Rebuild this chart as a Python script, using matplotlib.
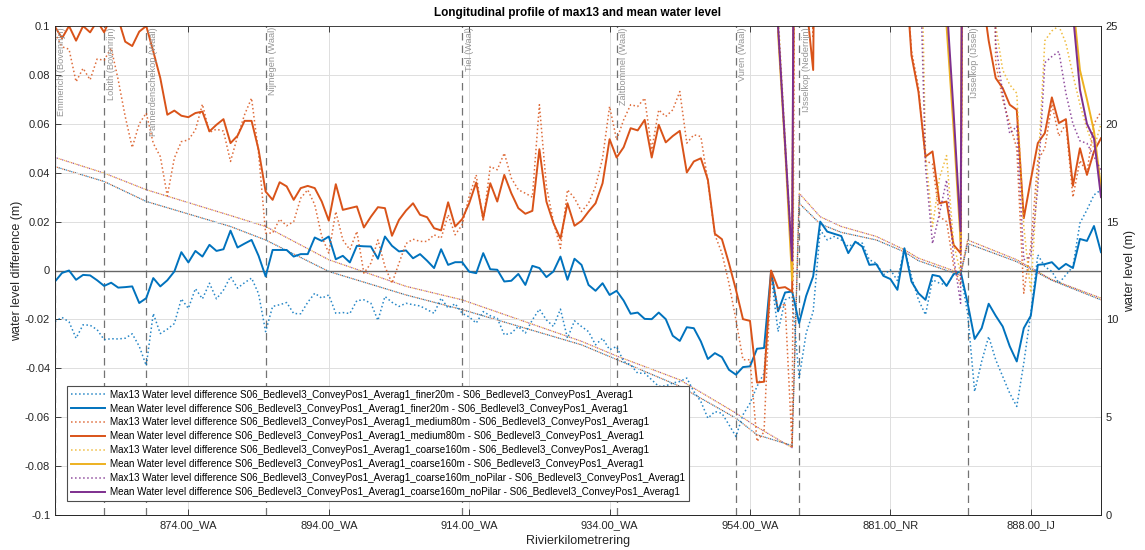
import numpy as np
import matplotlib
matplotlib.use("Agg")
import matplotlib.pyplot as plt

plt.rcParams['font.family'] = ['Liberation Sans', 'DejaVu Sans']

# river km index (one point per km-section)
idx = np.arange(1, 151)

xtick_pos = [20, 40, 60, 80, 100, 120, 140]
xtick_labels = ['874.00_WA', '894.00_WA', '914.00_WA', '934.00_WA', '954.00_WA', '881.00_NR', '888.00_IJ']
ytick_vals = [-0.1, -0.08, -0.06, -0.04, -0.02, 0, 0.02, 0.04, 0.06, 0.08, 0.1]
ytick_labels = ['-0.1', '-0.08', '-0.06', '-0.04', '-0.02', '0', '0.02', '0.04', '0.06', '0.08', '0.1']

loc_x = [1, 8, 14, 31, 59, 81, 98, 107, 131]
loc_names = ['Emmerich (Bovenrijn)', 'Lobith (Bovenrijn)', 'Pannerdenschekop (Waal)', 'Nijmegen (Waal)',
             'Tiel (Waal)', 'Zaltbommel (Waal)', 'Vuren (Waal)', 'IJsselkop (Nederrijn)', 'IJsselkop (IJssel)']

# water level difference, finer20m
finer_mean = [-0.0045, -0.001, 0.0, -0.0038, -0.0018, -0.002, -0.004, -0.0063, -0.005, -0.007,
              -0.0068, -0.0065, -0.0133, -0.0113, -0.0031, -0.0065, -0.004, -0.0004, 0.0075, 0.0033,
              0.008, 0.0057, 0.0105, 0.008, 0.0087, 0.0163, 0.0094, 0.011, 0.0125, 0.006,
              -0.0024, 0.0084, 0.0084, 0.0084, 0.0057, 0.0067, 0.0067, 0.0135, 0.0121, 0.0139,
              0.0046, 0.006, 0.0033, 0.0101, 0.0099, 0.0098, 0.0048, 0.0139, 0.0101, 0.0078,
              0.0082, 0.005, 0.0067, 0.004, 0.001, 0.0087, 0.0023, 0.0034, 0.0034, -0.0005,
              -0.0011, 0.0071, 0.0005, 0.0003, -0.0045, -0.0042, -0.0014, -0.0059, 0.0019, 0.001,
              -0.0027, -0.0004, 0.0057, -0.0038, 0.0048, 0.0023, -0.0059, -0.0083, -0.0052, -0.01,
              -0.0083, -0.0123, -0.0177, -0.0172, -0.0198, -0.0199, -0.0172, -0.0199, -0.0267, -0.0288,
              -0.0232, -0.0236, -0.029, -0.0362, -0.0338, -0.0354, -0.0406, -0.0426, -0.0395, -0.0392,
              -0.032, -0.0317, -0.0004, -0.0167, -0.009, -0.0086, -0.0215, -0.0104, -0.0024, 0.02,
              0.0159, 0.015, 0.0141, 0.0071, 0.0118, 0.0098, 0.0023, 0.0026, -0.0022, -0.0035,
              -0.0079, 0.0091, -0.0045, -0.0093, -0.012, -0.0018, -0.0024, -0.0063, -0.0015, -0.0004,
              -0.0133, -0.028, -0.0236, -0.0136, -0.0185, -0.0229, -0.031, -0.0372, -0.0236, -0.0185,
              0.0023, 0.0026, 0.0034, 0.0005, 0.0027, 0.001, 0.0129, 0.0121, 0.0182, 0.0075]
finer_max = [-0.0208, -0.0192, -0.021, -0.0277, -0.0222, -0.0224, -0.0242, -0.0283, -0.0279, -0.028,
             -0.0277, -0.0259, -0.031, -0.0389, -0.0176, -0.0258, -0.024, -0.0217, -0.0116, -0.0155,
             -0.0074, -0.0116, -0.0052, -0.0116, -0.008, -0.0025, -0.0072, -0.005, -0.0031, -0.0095,
             -0.025, -0.0147, -0.014, -0.0131, -0.0176, -0.0177, -0.013, -0.0093, -0.0113, -0.01,
             -0.0175, -0.0172, -0.0176, -0.0123, -0.012, -0.0134, -0.0204, -0.0106, -0.013, -0.0147,
             -0.0134, -0.014, -0.0145, -0.016, -0.0175, -0.0113, -0.0154, -0.0136, -0.0175, -0.019,
             -0.0215, -0.0168, -0.0185, -0.0195, -0.0263, -0.0256, -0.0229, -0.0256, -0.0202, -0.0158,
             -0.0202, -0.0229, -0.0158, -0.0277, -0.0206, -0.0229, -0.025, -0.0304, -0.0277, -0.0324,
             -0.0311, -0.0372, -0.0386, -0.042, -0.042, -0.0447, -0.0474, -0.0472, -0.046, -0.0454,
             -0.044, -0.0495, -0.0536, -0.0604, -0.0577, -0.0584, -0.0631, -0.0679, -0.059, -0.0543,
             -0.0474, -0.042, -0.0018, -0.025, -0.012, -0.0106, -0.044, -0.0256, -0.0168, 0.0166,
             0.0125, 0.0139, 0.0125, 0.0098, 0.0112, 0.0112, 0.0044, 0.003, -0.0018, 0.0003,
             -0.0041, 0.0091, -0.0025, -0.012, -0.0181, -0.0038, -0.0052, -0.0059, -0.0018, -0.0011,
             -0.0175, -0.0495, -0.0372, -0.027, -0.0365, -0.0434, -0.0502, -0.0556, -0.0379, -0.0175,
             0.0064, 0.0016, -0.0004, -0.0052, -0.0018, 0.0016, 0.0194, 0.0248, 0.0309, 0.033]

# water level difference, medium80m
medium_mean = [0.0997, 0.095, 0.1, 0.094, 0.1, 0.0974, 0.102, 0.0974, 0.104, 0.103,
               0.0936, 0.0918, 0.0977, 0.1, 0.0896, 0.0787, 0.0637, 0.0654, 0.0633, 0.0627,
               0.0644, 0.065, 0.0569, 0.0596, 0.0619, 0.0521, 0.0551, 0.0612, 0.0612, 0.0494,
               0.0323, 0.0289, 0.0361, 0.0344, 0.0289, 0.0337, 0.0346, 0.0337, 0.0282, 0.0204,
               0.0353, 0.0248, 0.0255, 0.0262, 0.0176, 0.022, 0.0259, 0.0255, 0.0142, 0.0207,
               0.0245, 0.0275, 0.0228, 0.0218, 0.0173, 0.0164, 0.0279, 0.018, 0.021, 0.0275,
               0.036, 0.0214, 0.0357, 0.0282, 0.0391, 0.0316, 0.0255, 0.0232, 0.0244, 0.0496,
               0.0282, 0.0194, 0.013, 0.0275, 0.0183, 0.0203, 0.0241, 0.0275, 0.0357, 0.0537,
               0.0462, 0.0504, 0.0582, 0.0573, 0.0616, 0.0462, 0.0596, 0.0524, 0.055, 0.0571,
               0.0401, 0.0446, 0.0459, 0.0371, 0.015, 0.0128, 0.003, -0.0079, -0.0199, -0.0206,
               -0.0458, -0.0455, 0.0, -0.0072, -0.0068, -0.0086, 0.5, 0.11, 0.082, 0.4,
               0.3, 0.25, 0.2, 0.2, 0.2, 0.2, 0.2, 0.2, 0.2, 0.2,
               0.15, 0.13, 0.088, 0.073, 0.0466, 0.0487, 0.0275, 0.0282, 0.0105, 0.0071,
               0.5, 0.3, 0.115, 0.094, 0.0787, 0.0746, 0.0678, 0.0657, 0.0214, 0.0371,
               0.0521, 0.0562, 0.0708, 0.0603, 0.0619, 0.0346, 0.05, 0.0391, 0.0487, 0.0541]
medium_max = [0.097, 0.0915, 0.0905, 0.0772, 0.0827, 0.078, 0.0865, 0.086, 0.091, 0.078,
              0.063, 0.0503, 0.06, 0.0644, 0.052, 0.0466, 0.0305, 0.046, 0.0527, 0.0534,
              0.0575, 0.068, 0.0565, 0.0578, 0.057, 0.0446, 0.0548, 0.0637, 0.0705, 0.048,
              0.0153, 0.0153, 0.021, 0.0183, 0.02, 0.0296, 0.033, 0.0269, 0.0139, 0.0071,
              0.0241, 0.0125, 0.0085, 0.016, -0.0011, 0.003, 0.0125, 0.0016, -0.0052, 0.003,
              0.011, 0.0128, 0.0119, 0.0119, 0.0146, 0.0132, 0.0228, 0.0146, 0.0187, 0.0303,
              0.0391, 0.02, 0.0425, 0.0412, 0.048, 0.0378, 0.033, 0.0316, 0.03, 0.0678,
              0.0344, 0.02, 0.0091, 0.033, 0.0296, 0.0241, 0.0275, 0.0344, 0.0459, 0.0671,
              0.0534, 0.0616, 0.0678, 0.0671, 0.0705, 0.0494, 0.0657, 0.063, 0.0657, 0.0732,
              0.0521, 0.0555, 0.0548, 0.0364, 0.0146, 0.0071, -0.0052, -0.0202, -0.0365, -0.0365,
              -0.0699, -0.066, 0.0, -0.016, -0.0134, -0.072, 0.5, 0.2, 0.095, 0.4,
              0.3, 0.25, 0.25, 0.2, 0.2, 0.2, 0.2, 0.2, 0.2, 0.25,
              0.3, 0.13, 0.09, 0.075, 0.045, 0.0435, 0.022, 0.02, 0.002, -0.006,
              0.5, 0.3, 0.2, 0.3, 0.085, 0.07, 0.06, 0.05, -0.0093, 0.01,
              0.045, 0.05, 0.068, 0.055, 0.06, 0.03, 0.045, 0.04, 0.06, 0.065]

# coarse160m and coarse160m_noPilar: mostly far above the axis, only the dips are visible
coarse_mean_x = [1, 103, 104, 105, 106, 107, 127, 128, 129, 130, 131, 145, 146, 147, 148, 149, 150]
coarse_mean = [0.6, 0.6, 0.097, 0.05, -0.004, 0.6, 0.6, 0.1, 0.058, 0.012, 0.6, 0.6, 0.11, 0.082, 0.07, 0.057, 0.034]
nopilar_mean = [0.6, 0.6, 0.1, 0.052, 0.004, 0.6, 0.5, 0.11, 0.065, 0.016, 0.6, 0.4, 0.105, 0.074, 0.06, 0.054, 0.03]
coarse_max_x = [1, 103, 104, 105, 106, 107, 124, 125, 126, 127, 128, 129, 130, 131, 134, 135,
                136, 137, 138, 139, 140, 141, 142, 143, 144, 145, 146, 147, 148, 149, 150]
coarse_max = [0.6, 0.6, 0.105, 0.055, 0.0, 0.6, 0.2, 0.048, 0.018, 0.038, 0.047, 0.011, -0.001, 0.6, 0.3, 0.1,
              0.082, 0.076, 0.0725, 0.018, -0.009, 0.04, 0.094, 0.098, 0.1, 0.093, 0.08, 0.068, 0.058, 0.05, 0.06]
nopilar_max = [0.6, 0.6, 0.1, 0.05, 0.006, 0.6, 0.15, 0.0425, 0.011, 0.0234, 0.037, 0.0057, -0.0134, 0.6, 0.3, 0.093,
               0.0725, 0.056, 0.059, 0.0044, 0.0057, 0.034, 0.085, 0.0875, 0.0896, 0.0725, 0.06, 0.053, 0.052, 0.0466, 0.041]

# water levels (right axis, m)
wl_x = [1, 8, 14, 26, 31, 40, 51, 59, 76, 81, 90, 98, 101, 106, 107, 110, 113, 118, 122, 124, 130, 131, 138, 143, 150]
wl_max = [18.28, 17.48, 16.63, 15.31, 14.75, 13.05, 11.69, 11.0, 8.88, 8.13, 6.91, 5.21, 4.5, 3.44,
          16.45, 15.25, 14.75, 14.24, 13.56, 13.13, 12.36, 14.06, 13.05, 12.03, 11.09]
wl_mean = [17.81, 17.05, 16.03, 14.75, 14.06, 12.45, 11.25, 10.5, 8.7, 7.95, 6.58, 4.95, 4.1, 3.55,
           15.94, 14.88, 14.45, 14.06, 13.45, 13.0, 12.25, 13.88, 12.95, 12.0, 11.0]

c_blue, c_orange, c_yellow, c_purple = '#0072BD', '#D95319', '#EDB120', '#7E2F8E'
base = 'S06_Bedlevel3_ConveyPos1_Averag1'

fig = plt.figure(figsize=(11.45, 5.5), dpi=100)
ax = fig.add_axes([55 / 1145, 35 / 550, 1046 / 1145, 489 / 550])
ax2 = ax.twinx()
ax.set_zorder(ax2.get_zorder() + 1)
ax.patch.set_visible(False)

# water levels, several overlapping dotted lines
for off, c in zip([0, 1.5, 3.0], [c_orange, c_yellow, c_purple]):
    ax2.plot(wl_x, wl_max, color=c, lw=0.9, ls=(off, (1, 3.5)), alpha=0.8)
for off, c in zip([0, 1.5, 3.0], [c_blue, '#333333', c_orange]):
    ax2.plot(wl_x, wl_mean, color=c, lw=0.9, ls=(off, (1, 3.5)), alpha=0.8)
ax2.set_ylim(0, 25)
ax2.set_yticks([0, 5, 10, 15, 20, 25])
ax2.set_ylabel('water level (m)', fontsize=9, color='#262626')
ax2.tick_params(axis='y', direction='in', length=4, width=0.6, labelsize=8, colors='#262626')

ax.grid(True, color='#dedede', lw=0.7)
ax.set_axisbelow(True)
for xv, name in zip(loc_x, loc_names):
    ax.axvline(xv, color='0.45', ls=(0, (6, 4)), lw=0.9, zorder=1.5)
    ax.text(xv + 0.35, 0.0995, name, rotation=90, ha='left', va='top', fontsize=6.6, color='0.58')
ax.axhline(0, color='0.4', lw=1.0, zorder=1.6)

lines = []
for xs, mx, mn, c, tag in [(idx, finer_max, finer_mean, c_blue, 'finer20m'),
                           (idx, medium_max, medium_mean, c_orange, 'medium80m')]:
    l1, = ax.plot(xs, mx, color=c, lw=1.1, ls=':', alpha=0.85,
                  label=f'Max13 Water level difference {base}_{tag} - {base}')
    l2, = ax.plot(xs, mn, color=c, lw=1.4, label=f'Mean Water level difference {base}_{tag} - {base}')
    lines += [l1, l2]
for xm, mx, xn, mn, c, tag in [(coarse_max_x, coarse_max, coarse_mean_x, coarse_mean, c_yellow, 'coarse160m'),
                               (coarse_max_x, nopilar_max, coarse_mean_x, nopilar_mean, c_purple, 'coarse160m_noPilar')]:
    l1, = ax.plot(xm, mx, color=c, lw=1.1, ls=':', alpha=0.85,
                  label=f'Max13 Water level difference {base}_{tag} - {base}')
    l2, = ax.plot(xn, mn, color=c, lw=1.4, label=f'Mean Water level difference {base}_{tag} - {base}')
    lines += [l1, l2]

ax.set_xlim(1, 150)
ax.set_ylim(-0.1, 0.1)
ax.set_xticks(xtick_pos)
ax.set_xticklabels(xtick_labels)
ax.set_yticks(ytick_vals)
ax.set_yticklabels(ytick_labels)
ax.tick_params(direction='in', length=4, width=0.6, labelsize=8, colors='#262626', top=True)
ax.tick_params(axis='y', right=False)
for sp in list(ax.spines.values()) + list(ax2.spines.values()):
    sp.set_color('#262626')
    sp.set_linewidth(0.6)
ax.set_xlabel('Rivierkilometrering', fontsize=9, color='#262626', labelpad=4)
ax.set_ylabel('water level difference (m)', fontsize=9, color='#262626', labelpad=1)
ax.set_title('Longitudinal profile of max13 and mean water level', fontsize=8.5, fontweight='bold', pad=7)

leg = ax.legend(handles=lines, loc='lower left', bbox_to_anchor=(0.0115, 0.028), borderaxespad=0,
                fontsize=7.15, handlelength=3.4, labelspacing=0.4, borderpad=0.4, handletextpad=0.5,
                fancybox=False, framealpha=1)
leg.get_frame().set_edgecolor('0.3')
leg.get_frame().set_linewidth(0.8)

fig.savefig('out.png', dpi=100)
